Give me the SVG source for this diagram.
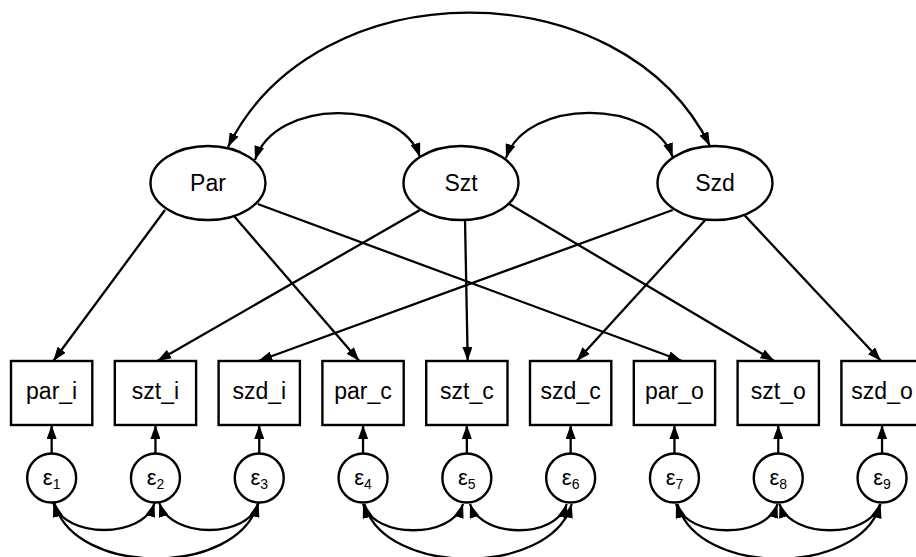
<svg xmlns="http://www.w3.org/2000/svg" width="916" height="557" viewBox="0 0 916 557">
<style>
.ln{fill:none;stroke:#000;stroke-width:2.3}
.nd{fill:#fff;stroke:#000;stroke-width:2.4}
.t{font-family:"Liberation Sans",Arial,sans-serif;font-size:23px;fill:#000;text-anchor:middle}
.e{font-family:"Liberation Sans",Arial,sans-serif;font-size:22px;fill:#000;text-anchor:middle}
.s{font-size:14px}
</style>
<defs>
<marker id="ah" markerUnits="userSpaceOnUse" markerWidth="15" markerHeight="10" refX="14" refY="5" orient="auto-start-reverse" viewBox="0 0 15 10">
<path d="M0,0 L14,5 L0,10 z" fill="#000"/>
</marker>
</defs>
<rect width="916" height="557" fill="#fff"/>
<g id="connectors" class="ln">
<path d="M228,147 C316,-32 622,-32 710,146" marker-start="url(#ah)" marker-end="url(#ah)"/>
<path d="M255,160 C275,98 400,98 420,157" marker-start="url(#ah)" marker-end="url(#ah)"/>
<path d="M506,158 C526,98 652,98 672.7,157" marker-start="url(#ah)" marker-end="url(#ah)"/>
<line x1="165" y1="210" x2="53.3" y2="361" marker-end="url(#ah)"/>
<line x1="234" y1="216" x2="359.3" y2="361" marker-end="url(#ah)"/>
<line x1="257.7" y1="204" x2="682" y2="361" marker-end="url(#ah)"/>
<line x1="420" y1="210" x2="157.3" y2="361" marker-end="url(#ah)"/>
<line x1="465" y1="219" x2="467.7" y2="361" marker-end="url(#ah)"/>
<line x1="509.3" y1="204" x2="774.3" y2="361" marker-end="url(#ah)"/>
<line x1="672.7" y1="210" x2="258.3" y2="361" marker-end="url(#ah)"/>
<line x1="705.3" y1="220" x2="576.7" y2="361" marker-end="url(#ah)"/>
<line x1="744.3" y1="215" x2="881" y2="361" marker-end="url(#ah)"/>
<line x1="51.65" y1="453.5" x2="51.65" y2="425" marker-end="url(#ah)"/>
<line x1="155.45" y1="453.5" x2="155.45" y2="425" marker-end="url(#ah)"/>
<line x1="259.25" y1="453.5" x2="259.25" y2="425" marker-end="url(#ah)"/>
<line x1="363.05" y1="453.5" x2="363.05" y2="425" marker-end="url(#ah)"/>
<line x1="466.85" y1="453.5" x2="466.85" y2="425" marker-end="url(#ah)"/>
<line x1="570.65" y1="453.5" x2="570.65" y2="425" marker-end="url(#ah)"/>
<line x1="674.45" y1="453.5" x2="674.45" y2="425" marker-end="url(#ah)"/>
<line x1="778.25" y1="453.5" x2="778.25" y2="425" marker-end="url(#ah)"/>
<line x1="882.05" y1="453.5" x2="882.05" y2="425" marker-end="url(#ah)"/>
<path d="M53.3,503 C65,539 143,539 154.5,503" marker-start="url(#ah)" marker-end="url(#ah)"/>
<path d="M159.3,503 C171,539 248,539 258.5,503" marker-start="url(#ah)" marker-end="url(#ah)"/>
<path d="M54.5,503 C74,577 238,577 258,503" marker-start="url(#ah)" marker-end="url(#ah)"/>
<path d="M363,504 C375,539 452,539 463,504" marker-start="url(#ah)" marker-end="url(#ah)"/>
<path d="M470,504 C482,539 556,539 566.7,504" marker-start="url(#ah)" marker-end="url(#ah)"/>
<path d="M364.5,504 C384,577 551,577 571.7,504" marker-start="url(#ah)" marker-end="url(#ah)"/>
<path d="M676,504 C688,539 766,539 777.5,504" marker-start="url(#ah)" marker-end="url(#ah)"/>
<path d="M779.5,504 C791,539 869,539 880,504" marker-start="url(#ah)" marker-end="url(#ah)"/>
<path d="M677.5,504 C697,577 860,577 880.5,504" marker-start="url(#ah)" marker-end="url(#ah)"/>
</g>
<g id="Par"><ellipse class="nd" cx="208" cy="183" rx="57.5" ry="37"/><text class="t" x="208" y="191">Par</text></g>
<g id="Szt"><ellipse class="nd" cx="461" cy="183" rx="57.5" ry="37"/><text class="t" x="461" y="191">Szt</text></g>
<g id="Szd"><ellipse class="nd" cx="715" cy="183" rx="57.5" ry="37"/><text class="t" x="715" y="191">Szd</text></g>
<g id="par_i"><rect class="nd" x="11" y="361" width="81.3" height="64"/><text class="t" x="51.65" y="399">par_i</text></g>
<g id="szt_i"><rect class="nd" x="114.8" y="361" width="81.3" height="64"/><text class="t" x="155.45" y="399">szt_i</text></g>
<g id="szd_i"><rect class="nd" x="218.6" y="361" width="81.3" height="64"/><text class="t" x="259.25" y="399">szd_i</text></g>
<g id="par_c"><rect class="nd" x="322.4" y="361" width="81.3" height="64"/><text class="t" x="363.05" y="399">par_c</text></g>
<g id="szt_c"><rect class="nd" x="426.2" y="361" width="81.3" height="64"/><text class="t" x="466.85" y="399">szt_c</text></g>
<g id="szd_c"><rect class="nd" x="530" y="361" width="81.3" height="64"/><text class="t" x="570.65" y="399">szd_c</text></g>
<g id="par_o"><rect class="nd" x="633.8" y="361" width="81.3" height="64"/><text class="t" x="674.45" y="399">par_o</text></g>
<g id="szt_o"><rect class="nd" x="737.6" y="361" width="81.3" height="64"/><text class="t" x="778.25" y="399">szt_o</text></g>
<g id="szd_o"><rect class="nd" x="841.4" y="361" width="81.3" height="64"/><text class="t" x="882.05" y="399">szd_o</text></g>
<g id="e1"><circle class="nd" cx="51.65" cy="478" r="24.5"/><text class="e" x="51.65" y="485">ε<tspan class="s" dy="4">1</tspan></text></g>
<g id="e2"><circle class="nd" cx="155.45" cy="478" r="24.5"/><text class="e" x="155.45" y="485">ε<tspan class="s" dy="4">2</tspan></text></g>
<g id="e3"><circle class="nd" cx="259.25" cy="478" r="24.5"/><text class="e" x="259.25" y="485">ε<tspan class="s" dy="4">3</tspan></text></g>
<g id="e4"><circle class="nd" cx="363.05" cy="478" r="24.5"/><text class="e" x="363.05" y="485">ε<tspan class="s" dy="4">4</tspan></text></g>
<g id="e5"><circle class="nd" cx="466.85" cy="478" r="24.5"/><text class="e" x="466.85" y="485">ε<tspan class="s" dy="4">5</tspan></text></g>
<g id="e6"><circle class="nd" cx="570.65" cy="478" r="24.5"/><text class="e" x="570.65" y="485">ε<tspan class="s" dy="4">6</tspan></text></g>
<g id="e7"><circle class="nd" cx="674.45" cy="478" r="24.5"/><text class="e" x="674.45" y="485">ε<tspan class="s" dy="4">7</tspan></text></g>
<g id="e8"><circle class="nd" cx="778.25" cy="478" r="24.5"/><text class="e" x="778.25" y="485">ε<tspan class="s" dy="4">8</tspan></text></g>
<g id="e9"><circle class="nd" cx="882.05" cy="478" r="24.5"/><text class="e" x="882.05" y="485">ε<tspan class="s" dy="4">9</tspan></text></g>
</svg>
